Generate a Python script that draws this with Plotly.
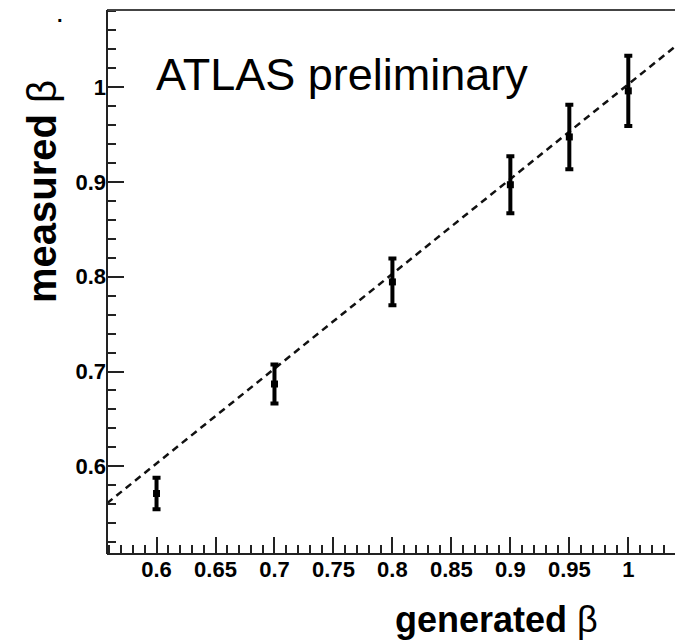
import plotly.graph_objects as go

# ---- data ----
generated_beta = [0.6, 0.7, 0.8, 0.9, 0.95, 1.0]
measured_beta = [0.5713, 0.6868, 0.7945, 0.8970, 0.9474, 0.9960]
measured_err = [0.0165, 0.0206, 0.0246, 0.0300, 0.0340, 0.0370]

fit_slope = 1.0
fit_intercept = 0.003

x_range = [0.558, 1.0396]
y_range = [0.5075, 1.0813]

x_tickvals = [0.6, 0.65, 0.7, 0.75, 0.8, 0.85, 0.9, 0.95, 1.0]
x_ticktext = ["0.6", "0.65", "0.7", "0.75", "0.8", "0.85", "0.9", "0.95", "1"]
y_tickvals = [0.6, 0.7, 0.8, 0.9, 1.0]
y_ticktext = ["0.6", "0.7", "0.8", "0.9", "1"]

FONT = "Liberation Sans, Arial, Helvetica, sans-serif"

fit_x = [x_range[0], x_range[1]]
fit_y = [fit_intercept + fit_slope * v for v in fit_x]

fig = go.Figure()

fig.add_trace(go.Scatter(
    x=fit_x, y=fit_y, mode="lines",
    line=dict(color="#111111", width=2.5, dash="7px,5px"),
    showlegend=False, hoverinfo="skip",
))

fig.add_trace(go.Scatter(
    x=generated_beta, y=measured_beta, mode="markers",
    marker=dict(symbol="square", size=7, color="black"),
    error_y=dict(type="data", array=measured_err, visible=True,
                 color="black", thickness=4, width=4),
    showlegend=False,
))

fig.update_layout(
    width=675, height=641,
    margin=dict(l=107, r=0, t=10, b=87),
    plot_bgcolor="white", paper_bgcolor="white",
    font=dict(family=FONT, color="black"),
    xaxis=dict(
        range=x_range, showgrid=False, zeroline=False,
        showline=False,
        ticks="inside", ticklen=17, tickwidth=1.5, tickcolor="#222222",
        tickvals=x_tickvals, ticktext=x_ticktext,
        tickfont=dict(family=FONT, size=22, color="black", weight="bold"),
        minor=dict(ticks="inside", ticklen=9, tickwidth=1.5, showgrid=False,
                   tickcolor="#222222", dtick=0.01, tick0=0.6),
    ),
    yaxis=dict(
        range=y_range, showgrid=False, zeroline=False,
        showline=False,
        ticks="inside", ticklen=17, tickwidth=1.5, tickcolor="#222222",
        tickvals=y_tickvals, ticktext=y_ticktext,
        tickfont=dict(family=FONT, size=22, color="black", weight="bold"),
        minor=dict(ticks="inside", ticklen=9, tickwidth=1.5, showgrid=False,
                   tickcolor="#222222", dtick=0.02, tick0=0.6),
    ),
    shapes=[
        dict(type="line", xref="paper", yref="paper", x0=0, x1=1, y0=1, y1=1,
             line=dict(color="#444444", width=2)),
        dict(type="line", xref="paper", yref="paper", x0=0, x1=1, y0=0, y1=0,
             line=dict(color="#222222", width=2)),
        dict(type="line", xref="paper", yref="paper", x0=0, x1=0, y0=0, y1=1,
             line=dict(color="#222222", width=2)),
    ],
    annotations=[
        dict(text="ATLAS preliminary", xref="paper", yref="paper",
             x=0.0827, y=0.882, xanchor="left", yanchor="middle",
             showarrow=False, font=dict(family=FONT, size=45, color="black")),
        dict(text="<b>generated</b> β", xref="paper", yref="paper",
             x=0.6866, y=-0.121, xanchor="center", yanchor="middle",
             showarrow=False,
             font=dict(family=FONT, size=36, color="black")),
        dict(text="<b>measured</b> β", xref="paper", yref="paper",
             x=-0.1144, y=0.6655, xanchor="center", yanchor="middle",
             textangle=-90, showarrow=False,
             font=dict(family=FONT, size=40, color="black")),
        dict(text=".", xref="paper", yref="paper",
             x=-0.082, y=0.99, xanchor="center", yanchor="middle",
             showarrow=False,
             font=dict(family=FONT, size=20, color="black", weight="bold")),
    ],
)

fig.write_html("out.html")
